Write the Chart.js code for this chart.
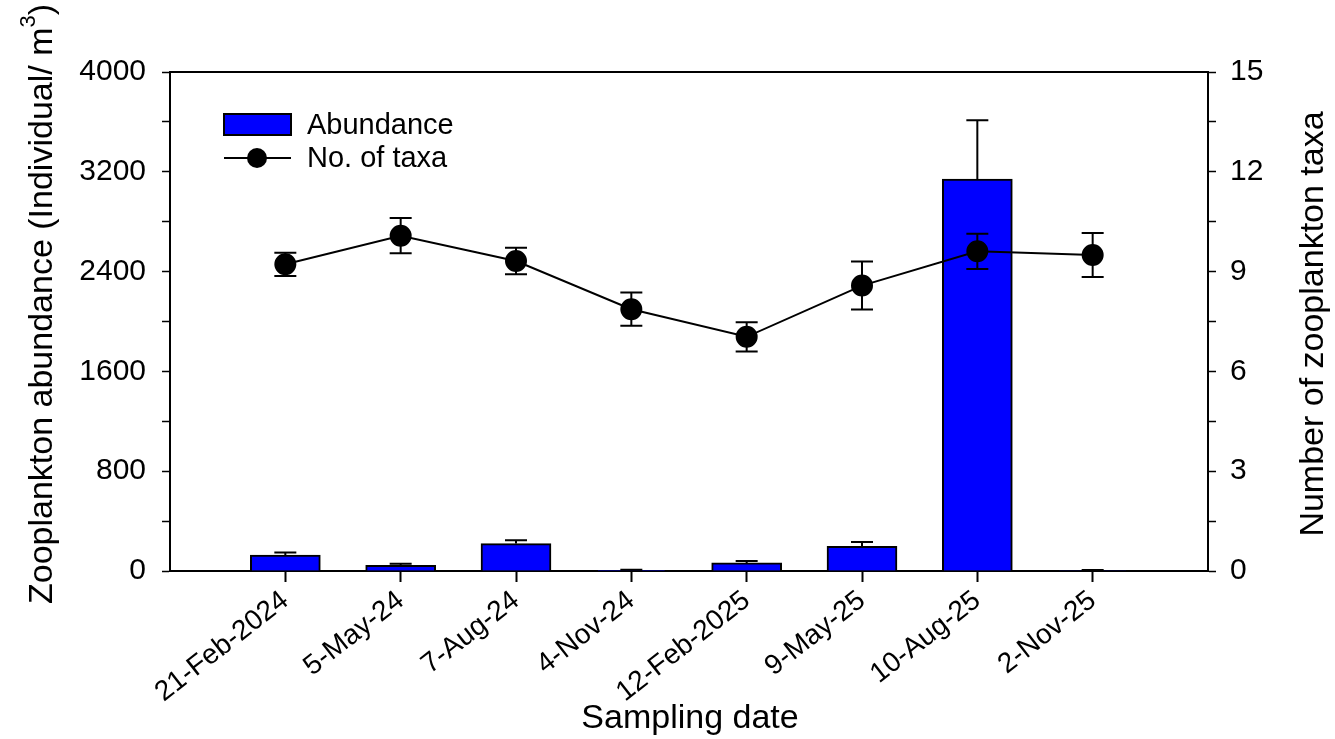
<!DOCTYPE html>
<html>
<head>
<meta charset="utf-8">
<script src="https://cdn.jsdelivr.net/npm/chart.js@4.4.1/dist/chart.umd.min.js"></script>
<style>
  body { margin: 0; background: #fff; }
  canvas { display: block; }
</style>
</head>
<body>
<canvas id="zooChart" width="1335" height="739"></canvas>
<script>
// sampling dates (x axis)
var dates = ["21-Feb-2024", "5-May-24", "7-Aug-24", "4-Nov-24", "12-Feb-2025", "9-May-25", "10-Aug-25", "2-Nov-25"];
// zooplankton abundance (Individual/ m3) and its error
var abundance = [128, 46, 220, 3, 65, 198, 3142, 4];
var abundanceErr = [20, 12, 26, 7, 15, 34, 472, 5];
// number of taxa and its error
var taxa = [9.22, 10.08, 9.32, 7.87, 7.04, 8.58, 9.61, 9.50];
var taxaErr = [0.35, 0.53, 0.40, 0.50, 0.44, 0.72, 0.53, 0.66];

var FONT = "'Liberation Sans', Arial, sans-serif";

// empty slot at each end so the dates sit one step in from the frame
var labels = [""].concat(dates, [""]);
function pad(arr) { return [null].concat(arr, [null]); }

// error bars, frame top line, axis titles and legend
var extras = {
  id: "extras",
  afterDatasetsDraw: function (chart) {
    var ctx = chart.ctx;
    var yL = chart.scales.y, yR = chart.scales.y1;
    var barMeta = chart.getDatasetMeta(0);
    var lineMeta = chart.getDatasetMeta(1);
    ctx.save();
    ctx.strokeStyle = "#000";
    ctx.lineWidth = 2;
    for (var i = 0; i < dates.length; i++) {
      // bars: upper error only
      var bx = barMeta.data[i + 1].x;
      var top = yL.getPixelForValue(abundance[i]);
      var hi = yL.getPixelForValue(abundance[i] + abundanceErr[i]);
      ctx.beginPath();
      ctx.moveTo(bx, top); ctx.lineTo(bx, hi);
      ctx.moveTo(bx - 11, hi); ctx.lineTo(bx + 11, hi);
      ctx.stroke();
      // taxa: both sides
      var px = lineMeta.data[i + 1].x;
      var up = yR.getPixelForValue(taxa[i] + taxaErr[i]);
      var dn = yR.getPixelForValue(taxa[i] - taxaErr[i]);
      ctx.beginPath();
      ctx.moveTo(px, up); ctx.lineTo(px, dn);
      ctx.moveTo(px - 11, up); ctx.lineTo(px + 11, up);
      ctx.moveTo(px - 11, dn); ctx.lineTo(px + 11, dn);
      ctx.stroke();
    }
    ctx.restore();
  },
  afterDraw: function (chart) {
    var ctx = chart.ctx, a = chart.chartArea;
    ctx.save();
    // top of the frame
    ctx.strokeStyle = "#000";
    ctx.lineWidth = 2;
    ctx.beginPath();
    ctx.moveTo(a.left - 1, a.top); ctx.lineTo(a.right + 1, a.top);
    ctx.stroke();

    ctx.fillStyle = "#000";
    ctx.textBaseline = "middle";

    // left title with superscript
    var main = "Zooplankton abundance (Individual/ m";
    ctx.font = "34px " + FONT;
    var w1 = ctx.measureText(main).width;
    var w3 = ctx.measureText(")").width;
    ctx.font = "22px " + FONT;
    var w2 = ctx.measureText("3").width;
    var total = w1 + w2 + w3;
    ctx.translate(43, 304);
    ctx.rotate(-Math.PI / 2);
    ctx.textAlign = "left";
    ctx.font = "34px " + FONT;
    ctx.fillText(main, -total / 2, 0);
    ctx.font = "22px " + FONT;
    ctx.fillText("3", -total / 2 + w1, -14);
    ctx.font = "34px " + FONT;
    ctx.fillText(")", -total / 2 + w1 + w2, 0);
    ctx.setTransform(1, 0, 0, 1, 0, 0);

    // right title
    ctx.translate(1314, 324);
    ctx.rotate(-Math.PI / 2);
    ctx.textAlign = "center";
    ctx.fillText("Number of zooplankton taxa", 0, 0);
    ctx.setTransform(1, 0, 0, 1, 0, 0);

    // x title
    ctx.fillText("Sampling date", 690, 719);

    // legend
    ctx.textAlign = "left";
    ctx.font = "29px " + FONT;
    ctx.fillStyle = "#0000ff";
    ctx.fillRect(224, 114, 67, 21);
    ctx.strokeRect(224, 114, 67, 21);
    ctx.fillStyle = "#000";
    ctx.fillText("Abundance", 307, 126);
    ctx.beginPath();
    ctx.moveTo(224, 158); ctx.lineTo(291, 158);
    ctx.stroke();
    ctx.beginPath();
    ctx.arc(257, 158, 10, 0, Math.PI * 2);
    ctx.fill();
    ctx.fillText("No. of taxa", 307, 159);
    ctx.restore();
  }
};

var ctx = document.getElementById("zooChart").getContext("2d");
var zooChart = new Chart(ctx, {
  type: "bar",
  data: {
    labels: labels,
    datasets: [{
      type: "bar",
      label: "Abundance",
      data: pad(abundance),
      yAxisID: "y",
      backgroundColor: "#0000ff",
      borderColor: "#000",
      borderWidth: 2,
      barThickness: 70,
      order: 1
    }, {
      type: "line",
      label: "No. of taxa",
      data: pad(taxa),
      yAxisID: "y1",
      borderColor: "#000",
      borderWidth: 2,
      pointRadius: 10,
      pointBackgroundColor: "#000",
      pointBorderColor: "#000",
      tension: 0,
      order: 0
    }]
  },
  options: {
    responsive: false,
    animation: false,
    layout: { padding: { top: 72, left: 0, right: 0, bottom: 0 } },
    plugins: { legend: { display: false }, tooltip: { enabled: false } },
    scales: {
      x: {
        offset: false,
        border: { display: true, color: "#000", width: 2 },
        grid: {
          offset: false, display: true, drawOnChartArea: false, drawTicks: true, tickLength: 11, tickWidth: 2,
          tickColor: function (c) { return (c.index === 0 || c.index === labels.length - 1) ? "rgba(0,0,0,0)" : "#000"; }
        },
        ticks: {
          autoSkip: false, maxRotation: 38, minRotation: 38, padding: 2,
          color: "#000", font: { family: FONT, size: 28 }
        },
        afterFit: function (s) { s.height = 168; }
      },
      y: {
        position: "left",
        min: 0, max: 4000,
        border: { display: true, color: "#000", width: 2 },
        grid: { display: true, drawOnChartArea: false, drawTicks: true, tickLength: 8, tickWidth: 1.5, tickColor: "#000" },
        ticks: {
          stepSize: 400, padding: 16, color: "#000", font: { family: FONT, size: 30 },
          callback: function (v) { return v % 800 === 0 ? v : ""; }
        },
        afterFit: function (s) { s.width = 170; }
      },
      y1: {
        position: "right",
        min: 0, max: 15,
        border: { display: true, color: "#000", width: 2 },
        grid: { display: true, drawOnChartArea: false, drawTicks: true, tickLength: 8, tickWidth: 1.5, tickColor: "#000" },
        ticks: {
          stepSize: 1.5, padding: 14, color: "#000", font: { family: FONT, size: 30 },
          callback: function (v) { return Math.abs(v / 3 - Math.round(v / 3)) < 1e-6 ? Math.round(v) : ""; }
        },
        afterFit: function (s) { s.width = 127; }
      }
    }
  },
  plugins: [extras]
});
</script>
</body>
</html>
